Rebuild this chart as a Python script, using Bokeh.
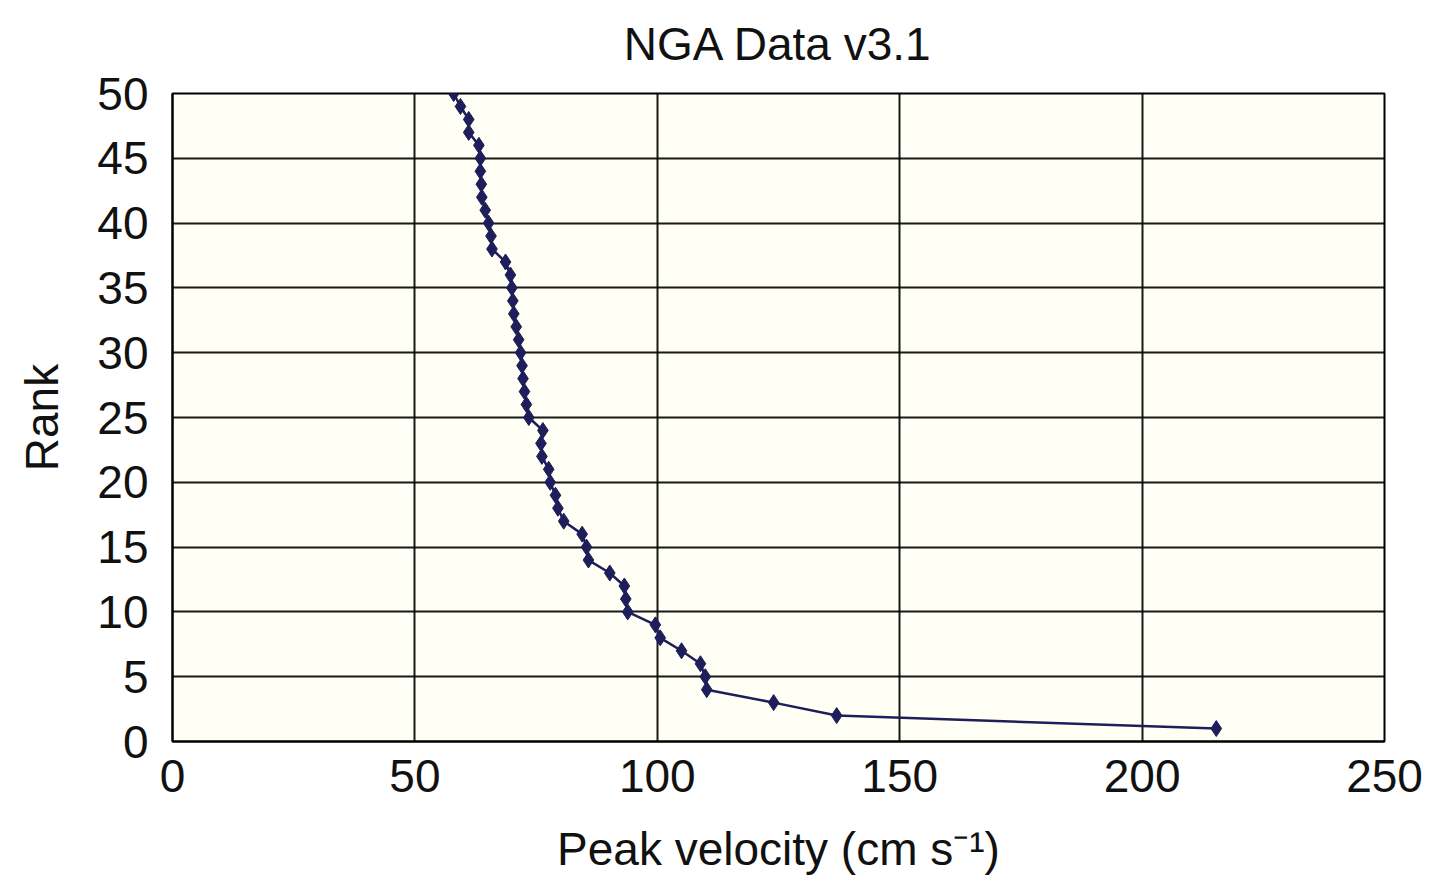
from bokeh.plotting import figure
from bokeh.models import FixedTicker, Range1d, LinearAxis
from bokeh.embed import file_html
from bokeh.resources import INLINE

rank = list(range(1, 52))
peak_velocity = [
    215.3, 137.0, 124.0, 110.2, 109.9, 108.9, 105.0, 100.6, 99.6, 93.9,
    93.5, 93.2, 90.2, 85.8, 85.4, 84.5, 80.7, 79.5, 79.0, 77.9,
    77.6, 76.2, 76.0, 76.4, 73.5, 73.0, 72.6, 72.3, 72.1, 71.8,
    71.4, 70.9, 70.4, 70.2, 70.0, 69.7, 68.7, 65.9, 65.7, 65.2,
    64.5, 63.8, 63.7, 63.5, 63.5, 63.2, 61.1, 61.1, 59.4, 58.0,
    57.2,
]
x_ticks = [0, 50, 100, 150, 200, 250]
y_ticks = [0, 5, 10, 15, 20, 25, 30, 35, 40, 45, 50]
title_text = "NGA Data v3.1"

FONT = "Liberation Sans"
INK = "#1e1e5a"

p = figure(width=1433, height=879, output_backend="svg", toolbar_location=None,
           x_range=Range1d(0, 250), y_range=Range1d(0, 50),
           frame_width=1212, frame_height=648,
           min_border_left=172, min_border_right=49, min_border_top=93, min_border_bottom=138)
p.background_fill_color = "#fffff5"
p.border_fill_color = "white"
p.outline_line_color = "black"
p.outline_line_width = 2

xax = p.below[0]
yax = p.left[0]
xax.ticker = FixedTicker(ticks=x_ticks)
yax.ticker = FixedTicker(ticks=y_ticks)
p.xgrid[0].ticker = FixedTicker(ticks=x_ticks)
p.ygrid[0].ticker = FixedTicker(ticks=y_ticks)
xax.axis_label = "Peak velocity (cm s\u207b\u00b9)"
yax.axis_label = "Rank"

for ax in (xax, yax):
    ax.axis_line_color = "black"
    ax.axis_line_width = 2
    ax.major_tick_line_color = None
    ax.minor_tick_line_color = None
    ax.major_label_text_font = FONT
    ax.major_label_text_font_size = "46px"
    ax.major_label_text_color = "#111111"
    ax.axis_label_text_font = FONT
    ax.axis_label_text_font_style = "normal"
    ax.axis_label_text_font_size = "46px"
    ax.axis_label_text_color = "#111111"

xax.major_label_standoff = 12
yax.major_label_standoff = 18
xax.axis_label_standoff = 28
yax.axis_label_standoff = 26

p.xgrid.grid_line_color = "black"
p.ygrid.grid_line_color = "black"
p.xgrid.grid_line_width = 2
p.ygrid.grid_line_width = 2
p.xgrid.grid_line_alpha = 0.9
p.ygrid.grid_line_alpha = 0.9

# title drawn as the label of a bare axis above the frame
top_axis = LinearAxis(ticker=FixedTicker(ticks=[]), axis_label=title_text,
                      axis_line_color=None, major_tick_line_color=None,
                      minor_tick_line_color=None, major_tick_out=0, major_tick_in=0,
                      minor_tick_out=0, minor_tick_in=0, major_label_standoff=0,
                      major_label_text_font_size="0px",
                      axis_label_standoff=24, axis_label_text_font=FONT,
                      axis_label_text_font_style="normal", axis_label_text_font_size="46px",
                      axis_label_text_color="#111111")
p.add_layout(top_axis, "above")

p.line(peak_velocity, rank, line_color=INK, line_width=2.5)
p.scatter(peak_velocity, rank, marker="diamond", size=16, fill_color=INK, line_color=INK)

open("out.html", "w").write(file_html(p, INLINE))
